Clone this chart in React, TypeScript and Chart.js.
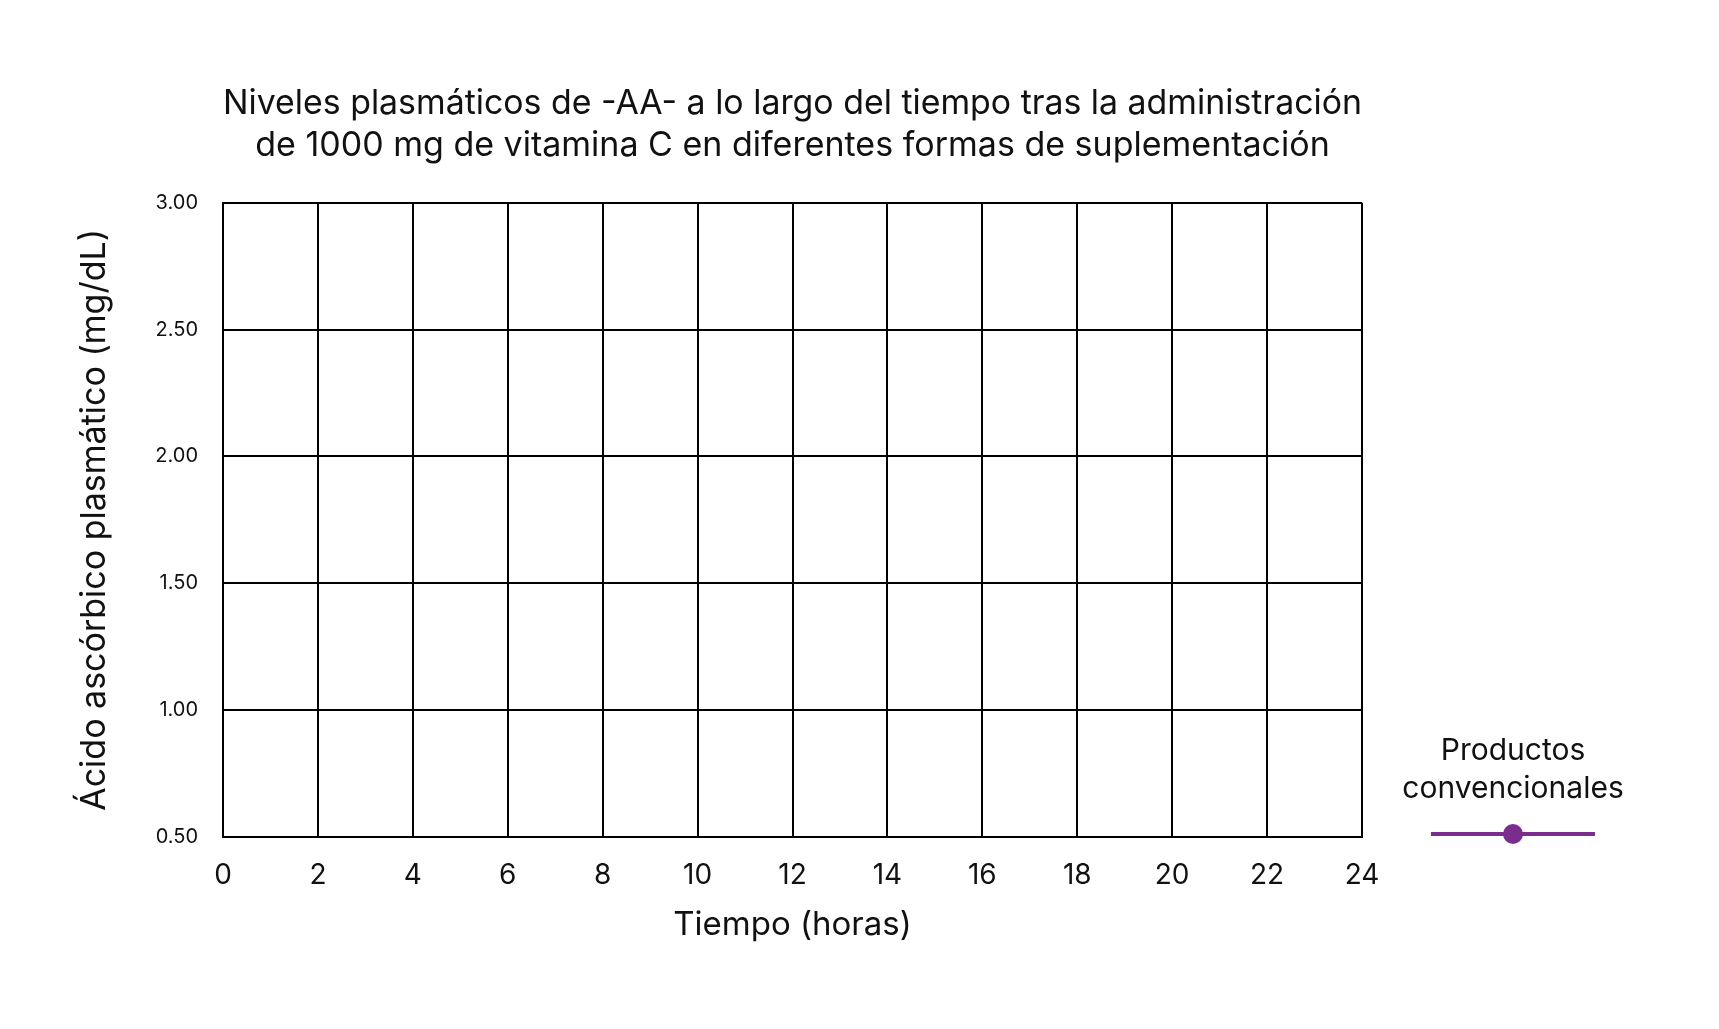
import { useEffect, useRef } from "react"
import { Chart, registerables } from "chart.js"

Chart.register(...registerables)

// Template chart: no measurements have been plotted yet
const titleLines = [
  "Niveles plasmáticos de -AA- a lo largo del tiempo tras la administración",
  "de 1000 mg de vitamina C en diferentes formas de suplementación",
]
const seriesLabel = "Productos convencionales"
const seriesColor = "#7b2d8e"
const sampleHours: number[] = []
const conventionalValues: number[] = []
const hourTicks = [0, 2, 4, 6, 8, 10, 12, 14, 16, 18, 20, 22, 24]
const levelTicks = [0.5, 1.0, 1.5, 2.0, 2.5, 3.0]

const FONT = "Inter, 'Noto Sans', sans-serif"

// draws the two-line legend entry to the right of the plot
const sideLegend = {
  id: "sideLegend",
  afterDraw(chart) {
    const { ctx, chartArea } = chart
    const ds = chart.data.datasets[0]
    const cx = chartArea.right + 151
    const words = String(ds.label).split(" ")
    ctx.save()
    ctx.fillStyle = "#111"
    ctx.font = `30px ${FONT}`
    ctx.textAlign = "center"
    ctx.textBaseline = "middle"
    ctx.fillText(words[0], cx, chartArea.bottom - 86)
    ctx.fillText(words.slice(1).join(" "), cx, chartArea.bottom - 48)
    const ly = chartArea.bottom - 3
    ctx.strokeStyle = ds.borderColor
    ctx.lineWidth = 4
    ctx.beginPath()
    ctx.moveTo(cx - 82, ly)
    ctx.lineTo(cx + 82, ly)
    ctx.stroke()
    ctx.fillStyle = ds.borderColor
    ctx.beginPath()
    ctx.arc(cx, ly, 10, 0, Math.PI * 2)
    ctx.fill()
    ctx.restore()
  },
}

export default function App() {
  const chartRef = useRef<HTMLCanvasElement | null>(null)
  const chartInstance = useRef<Chart | null>(null)

  useEffect(() => {
    if (!chartRef.current) return
    if (chartInstance.current) chartInstance.current.destroy()

    const points = sampleHours.map((h, i) => ({ x: h, y: conventionalValues[i] }))

    chartInstance.current = new Chart(chartRef.current, {
      type: "line",
      data: {
        datasets: [
          {
            label: seriesLabel,
            data: points,
            borderColor: seriesColor,
            backgroundColor: seriesColor,
            borderWidth: 4,
            pointRadius: 10,
          },
        ],
      },
      options: {
        animation: false,
        responsive: true,
        maintainAspectRatio: false,
        layout: { padding: { left: 0, right: 357, top: 0, bottom: 0 } },
        plugins: {
          legend: { display: false },
          tooltip: { enabled: false },
          title: {
            display: true,
            fullSize: false,
            text: titleLines,
            color: "#111",
            font: { family: FONT, size: 34, weight: "normal", lineHeight: 1.26 },
            padding: { top: 82, bottom: 35 },
          },
        },
        scales: {
          x: {
            type: "linear",
            min: 0,
            max: 24,
            afterBuildTicks: (scale) => {
              scale.ticks = hourTicks.map((v) => ({ value: v }))
            },
            afterFit: (scale) => {
              scale.height = 192
            },
            grid: { color: "#000", lineWidth: 2, drawTicks: false },
            border: { color: "#000", width: 2 },
            ticks: {
              color: "#111",
              padding: 22,
              font: { family: FONT, size: 28 },
              maxRotation: 0,
            },
            title: {
              display: true,
              text: "Tiempo (horas)",
              color: "#111",
              font: { family: FONT, size: 33 },
              padding: { top: 0, bottom: 84 },
            },
          },
          y: {
            min: 0.5,
            max: 3.0,
            afterBuildTicks: (scale) => {
              scale.ticks = levelTicks.map((v) => ({ value: v }))
            },
            afterFit: (scale) => {
              scale.width = 223
            },
            grid: { color: "#000", lineWidth: 2, drawTicks: false },
            border: { color: "#000", width: 2 },
            ticks: {
              color: "#111",
              padding: 25,
              font: { family: FONT, size: 20 },
              callback: (v) => Number(v).toFixed(2),
            },
            title: {
              display: true,
              text: "Ácido ascórbico plasmático (mg/dL)",
              color: "#111",
              font: { family: FONT, size: 34 },
              padding: { top: 74, bottom: 0 },
            },
          },
        },
      },
      plugins: [sideLegend],
    })

    return () => {
      if (chartInstance.current) {
        chartInstance.current.destroy()
        chartInstance.current = null
      }
    }
  }, [])

  return (
    <div style={{ position: "fixed", left: 0, top: 0, width: 1719, height: 1029, background: "#fff" }}>
      <canvas ref={chartRef}></canvas>
    </div>
  )
}
